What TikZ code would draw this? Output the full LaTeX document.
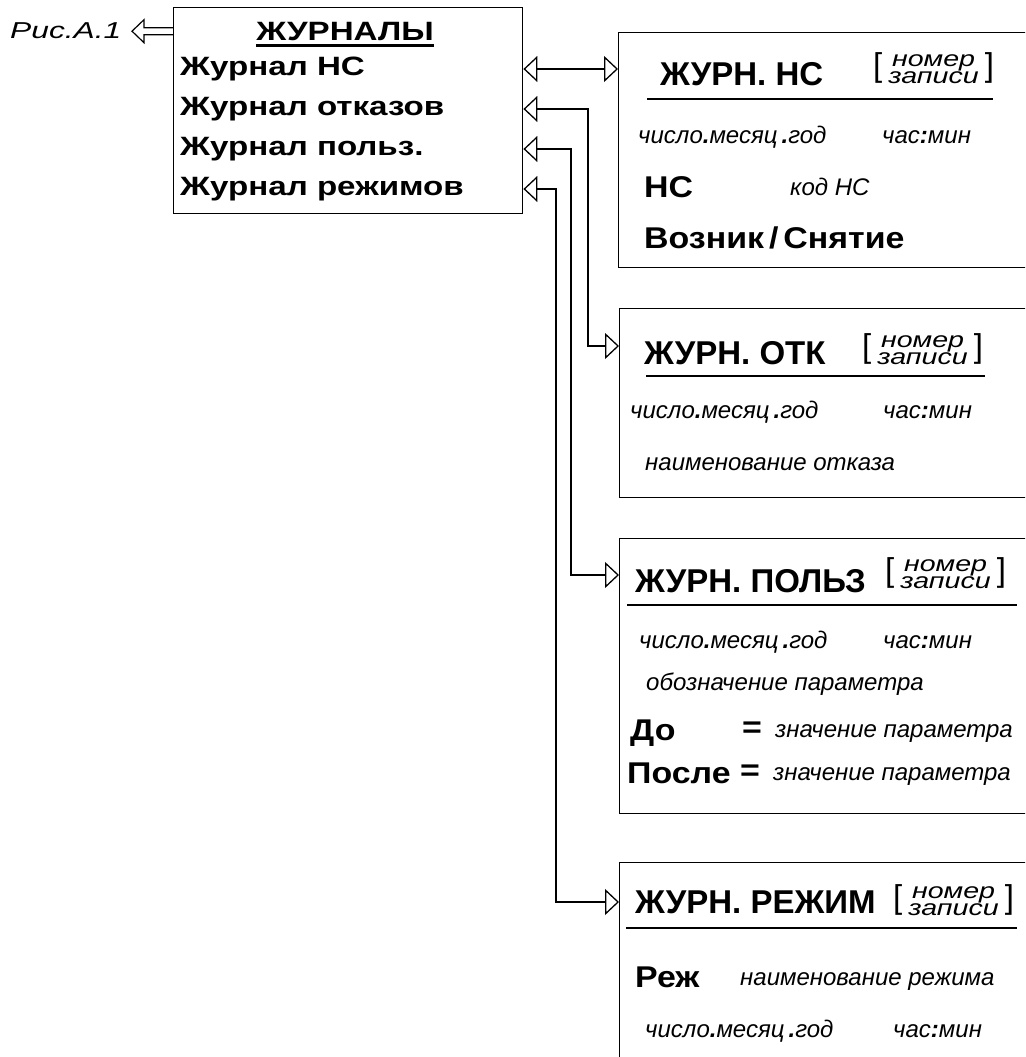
\documentclass[tikz,border=0pt]{standalone}
\usepackage{fontspec}
\setmainfont{Liberation Sans}
\newfontfamily\menufont[FakeStretch=1.25]{Liberation Sans}
\newfontfamily\fieldfont[FakeStretch=1.13]{Liberation Sans}
\newfontfamily\stackfont[FakeStretch=1.3]{Liberation Sans}
\newfontfamily\figfont[FakeStretch=1.38]{Liberation Sans}
\usetikzlibrary{positioning,arrows.meta,calc}

\newcommand{\recno}{\raisebox{7pt}{\fontsize{33}{33}\selectfont[}\hspace{6pt}{\stackfont\itshape\fontsize{22}{16}\selectfont\begin{tabular}[b]{@{}c@{}}номер\\записи\end{tabular}}\hspace{6pt}\raisebox{7pt}{\fontsize{33}{33}\selectfont]}}
\newcommand{\dmy}{число{\bfseries.}месяц\,{\bfseries.}год}
\newcommand{\hm}{час{\bfseries:}мин}

\begin{document}
\begin{tikzpicture}[x=1pt,y=-1pt,
  >={Triangle[open,length=14pt,width=26pt]},
  panel/.style={draw,line width=1.4pt,inner sep=0pt,anchor=north west},
  link/.style={line width=1.3pt},
  item/.style={font=\menufont\bfseries\fontsize{26.5}{26.5}\selectfont,anchor=west,inner sep=0pt},
  bold/.style={font=\fieldfont\bfseries\fontsize{30}{30}\selectfont,anchor=base west,inner sep=0pt},
  head/.style={font=\bfseries\fontsize{33}{33}\selectfont,anchor=base west,inner sep=0pt},
  note/.style={font=\itshape\fontsize{24}{24}\selectfont,anchor=base west,inner sep=0pt},
  num/.style={anchor=base west,inner sep=0pt},
  rule/.style={line width=2.5pt}]
\useasboundingbox (0,0) rectangle (1025,1057);
\clip (0,0) rectangle (1025,1057);

% journals menu
\node[panel,minimum width=349pt,minimum height=206pt] (journals) at (173,7) {};
\node[item,anchor=base] (jtitle) at (345,41) {ЖУРНАЛЫ};
\draw[line width=2.2pt] ($(jtitle.base west)+(0,4.5)$) -- ($(jtitle.base east)+(0,4.5)$);
\node[item] (jns) at (180,69) {Журнал НС};
\node[item] (jotk) at (180,109) {Журнал отказов};
\node[item] (jpol) at (180,149) {Журнал польз.};
\node[item] (jrez) at (180,189) {Журнал режимов};

\node[font=\figfont\itshape\fontsize{23}{23}\selectfont,anchor=base west,inner sep=0pt] (fig) at (10,39) {Рис.А.1};
\draw[line width=1.2pt] ($(journals.west |- fig.east)+(0,-3.5)$) -- ++(-29,0) -- ++(0,-8)
  -- ++(-12,11.5) -- ++(12,11.5) -- ++(0,-8) -- ++(29,0);

% journal screens
\node[panel,minimum width=421pt,minimum height=235pt] (boxns) at (618,32) {};
\node[panel,minimum width=421pt,minimum height=189pt] (boxotk) at (619,308) {};
\node[panel,minimum width=421pt,minimum height=275pt] (boxpol) at (619,538) {};
\node[panel,minimum width=421pt,minimum height=210pt] (boxrez) at (619,862) {};

\draw[link,<->] (journals.east |- jns.west) -- (boxns.west |- jns.west);
\draw[link,<->] (journals.east |- jotk.west) -| (588,346) -- (boxotk.west |- 0,346);
\draw[link,<->] (journals.east |- jpol.west) -| (571,575) -- (boxpol.west |- 0,575);
\draw[link,<->] (journals.east |- jrez.west) -| (556,902) -- (boxrez.west |- 0,902);

% НС
\node[head] (nshead) at (660,85) {ЖУРН. НС};
\node[num] (nsnum) at (873,83) {\recno};
\draw[rule] (647,99) -- (993,99);
\node[note] (nsdate) at (638,143) {\dmy};
\node[note] (nstime) at (882,143) {\hm};
\node[bold] (nscode) at (644,197) {НС};
\node[note] (nscodev) at (790,195) {код НС};
\node[bold] (nsevent) at (644,248) {Возник\,/\,Снятие};

% ОТК
\node[head] (otkhead) at (644,364) {ЖУРН. ОТК};
\node[num] (otknum) at (862,364) {\recno};
\draw[rule] (646,376) -- (985,376);
\node[note] (otkdate) at (630,418) {\dmy};
\node[note] (otktime) at (883,418) {\hm};
\node[note] (otkname) at (645,470) {наименование отказа};

% ПОЛЬЗ
\node[head] (polhead) at (635,592) {ЖУРН. ПОЛЬЗ};
\node[num] (polnum) at (885,588) {\recno};
\draw[rule] (627,605) -- (1017,605);
\node[note] (poldate) at (639,648) {\dmy};
\node[note] (poltime) at (883,648) {\hm};
\node[note] (polpar) at (646,690) {обозначение параметра};
\node[bold] (polbef) at (630,740) {До};
\node[bold] (poleq1) at (742,737) {=};
\node[note] (polval1) at (775,737) {значение параметра};
\node[bold] (polaft) at (627,783) {После};
\node[bold] (poleq2) at (740,780) {=};
\node[note] (polval2) at (773,780) {значение параметра};

% РЕЖИМ
\node[head] (rezhead) at (635,913) {ЖУРН. РЕЖИМ};
\node[num] (reznum) at (893,915) {\recno};
\draw[rule] (626,928) -- (1017,928);
\node[bold] (rezmode) at (635,987) {Реж};
\node[note] (rezname) at (740,985) {наименование режима};
\node[note] (rezdate) at (645,1037) {\dmy};
\node[note] (reztime) at (893,1037) {\hm};
\end{tikzpicture}
\end{document}
